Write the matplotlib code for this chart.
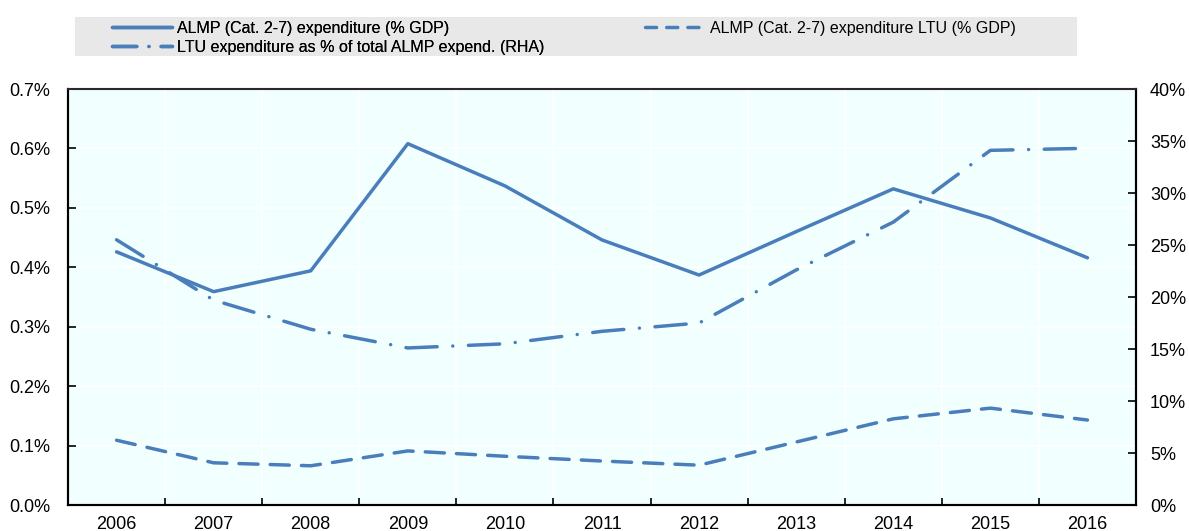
import matplotlib
matplotlib.use("Agg")
import matplotlib.pyplot as plt
from matplotlib import font_manager
from matplotlib.lines import Line2D
from matplotlib.patches import Rectangle
from matplotlib.ticker import FixedLocator, PercentFormatter

# data
years = ["2006", "2007", "2008", "2009", "2010", "2011", "2012", "2013", "2014", "2015", "2016"]
almp_gdp = [0.426, 0.359, 0.394, 0.608, 0.537, 0.446, 0.387, 0.460, 0.532, 0.483, 0.416]
almp_ltu_gdp = [0.109, 0.071, 0.066, 0.091, 0.082, 0.074, 0.067, 0.106, 0.145, 0.163, 0.143]
ltu_share = [25.5, 19.7, 16.9, 15.1, 15.5, 16.7, 17.5, 22.6, 27.2, 34.1, 34.3]

labels = [
    "ALMP (Cat. 2-7) expenditure (% GDP)",
    "ALMP (Cat. 2-7) expenditure LTU (% GDP)",
    "LTU expenditure as % of total ALMP expend. (RHA)",
]

installed = {f.name for f in font_manager.fontManager.ttflist}
family = [f for f in ["Liberation Sans Narrow", "Liberation Sans", "DejaVu Sans"] if f in installed]
plt.rcParams["font.family"] = family

W, H = 1189, 531
blue = "#4A7EBB"
lw = 2.5
dashed = (0, (5.5, 3.5))
dashdot = (0, (9, 4.5, 0.01, 4.5))

fig = plt.figure(figsize=(W / 100, H / 100), dpi=100)
ax = fig.add_axes([68 / W, 26 / H, (1136 - 68) / W, (505 - 89) / H])
ax2 = ax.twinx()

x = list(range(len(years)))
ax.plot(x, almp_gdp, color=blue, lw=lw, solid_capstyle="round", solid_joinstyle="round")
ax.plot(x, almp_ltu_gdp, color=blue, lw=lw, linestyle=dashed, dash_capstyle="round")
ax2.plot(x, ltu_share, color=blue, lw=lw, linestyle=dashdot, dash_capstyle="round")

ax.set_facecolor("#F2FFFF")
ax.set_xlim(-0.5, len(years) - 0.5)
ax.set_ylim(0, 0.7)
ax2.set_ylim(0, 40)

ax.set_xticks(x)
ax.set_xticklabels(years)
ax.xaxis.set_minor_locator(FixedLocator([i + 0.5 for i in range(len(years) - 1)]))
ax.tick_params(axis="x", which="major", length=0, labelsize=13, pad=8)
ax.tick_params(axis="x", which="minor", direction="in", length=5, width=1.2)
ax.grid(True, which="minor", axis="x", color="white", lw=1.2)
ax.grid(True, which="major", axis="y", color="white", lw=1.2)
ax.set_axisbelow(True)

ax.set_yticks([i / 10 for i in range(8)])
ax.yaxis.set_major_formatter(PercentFormatter(decimals=1))
ax.tick_params(axis="y", direction="in", length=6, width=1.2, labelsize=13, pad=13)

ax2.set_yticks(range(0, 45, 5))
ax2.yaxis.set_major_formatter(PercentFormatter(decimals=0))
ax2.tick_params(axis="y", direction="in", length=6, width=1.2, labelsize=13, pad=10)

for a in (ax, ax2):
    for s in a.spines.values():
        s.set_linewidth(1.5)
        s.set_color("black")
ax2.spines["top"].set_color("#333333")
ax2.spines["top"].set_linewidth(1.2)

# grey legend band
fig.patches.append(Rectangle((75 / W, 1 - 56 / H), (1077 - 75) / W, 39 / H,
                             transform=fig.transFigure, facecolor="#E8E8E8",
                             edgecolor="none", zorder=0))

# legend proxies with the short patterns seen in the key
h_solid = Line2D([], [], color=blue, lw=lw, solid_capstyle="round")
h_dash = Line2D([], [], color=blue, lw=lw, linestyle=(0, (3.2, 2.9)), dash_capstyle="round")
h_dashdot = Line2D([], [], color=blue, lw=lw, linestyle=(0, (7, 3.5, 0.01, 3.5)),
                   dash_capstyle="round")

leg_kw = dict(loc="upper left", frameon=False, handlelength=3.75, handletextpad=0.3,
              borderpad=0, labelspacing=0.25, borderaxespad=0, fontsize=11.5)
leg1 = fig.legend([h_solid, h_dashdot], [labels[0], labels[2]],
                  bbox_to_anchor=(112 / W, 1 - 21 / H), **leg_kw)
fig.add_artist(leg1)
leg2 = fig.legend([h_dash], [labels[1]],
                  bbox_to_anchor=(645 / W, 1 - 21 / H), **leg_kw)

fig.savefig("out.png", dpi=100)
